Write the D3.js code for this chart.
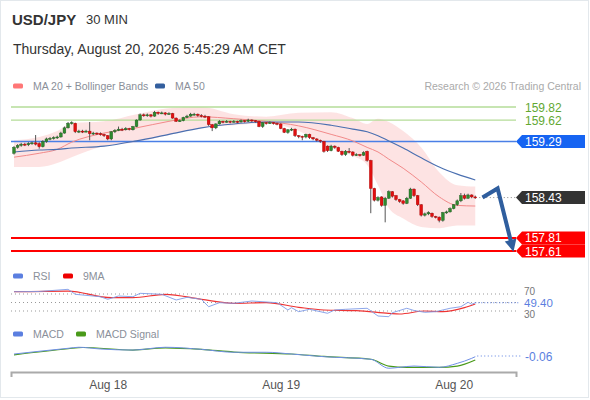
<!DOCTYPE html>
<html>
<head>
<meta charset="utf-8" />
<style>
  body { margin: 0; background: #fff; }
  svg text { font-family: "Liberation Sans", Arial, sans-serif; }
</style>
</head>
<body>
<div id="chart"></div>
<script src="https://cdnjs.cloudflare.com/ajax/libs/d3/7.8.5/d3.min.js"></script>
<script>
var pair = "USD/JPY", period = "30 MIN";
var stamp = "Thursday, August 20, 2026 5:45:29 AM CET";
var credit = "Research \u00a9 2026 Trading Central";

// 30 min candles, first one Aug 17 11:00
var opens = [159.11,159.20,159.23,159.25,159.24,159.26,159.27,159.26,159.21,159.29,
  159.33,159.34,159.35,159.36,159.42,159.50,159.57,159.57,159.44,159.45,
  159.44,159.45,159.41,159.42,159.41,159.40,159.38,159.33,159.44,159.46,
  159.48,159.47,159.49,159.47,159.52,159.62,159.70,159.69,159.70,159.68,
  159.74,159.72,159.73,159.71,159.72,159.65,159.60,159.61,159.66,159.68,
  159.71,159.71,159.69,159.68,159.67,159.55,159.50,159.56,159.60,159.59,
  159.60,159.59,159.60,159.59,159.61,159.60,159.62,159.61,159.60,159.52,
  159.58,159.57,159.58,159.57,159.56,159.49,159.43,159.47,159.48,159.38,
  159.37,159.36,159.40,159.35,159.33,159.31,159.29,159.22,159.15,159.22,
  159.20,159.14,159.09,159.14,159.13,159.08,159.09,159.08,159.14,159.00,
  158.57,158.39,158.44,158.31,158.42,158.52,158.46,158.40,158.38,158.34,
  158.42,158.56,158.46,158.32,158.16,158.18,158.19,158.14,158.13,158.08,
  158.20,158.21,158.26,158.32,158.38,158.46,158.42,158.47,158.44];
var closes = [159.20,159.23,159.25,159.24,159.26,159.27,159.25,159.21,159.29,159.33,
  159.34,159.35,159.36,159.42,159.50,159.57,159.58,159.44,159.45,159.44,
  159.45,159.41,159.42,159.41,159.40,159.38,159.33,159.44,159.46,159.48,
  159.47,159.49,159.48,159.52,159.62,159.70,159.69,159.70,159.68,159.74,
  159.72,159.73,159.71,159.72,159.65,159.60,159.61,159.66,159.68,159.71,
  159.71,159.69,159.68,159.67,159.55,159.50,159.56,159.60,159.59,159.60,
  159.59,159.60,159.59,159.61,159.60,159.62,159.61,159.60,159.52,159.58,
  159.57,159.58,159.57,159.56,159.49,159.43,159.47,159.48,159.38,159.37,
  159.36,159.40,159.35,159.33,159.31,159.30,159.14,159.15,159.22,159.20,
  159.14,159.09,159.14,159.13,159.08,159.09,159.08,159.12,159.00,158.57,
  158.39,158.43,158.31,158.42,158.52,158.45,158.40,158.37,158.34,158.42,
  158.56,158.46,158.32,158.16,158.18,158.20,158.14,158.13,158.08,158.20,
  158.21,158.26,158.32,158.38,158.46,158.42,158.47,158.44,158.43];
var highs = [159.22,159.25,159.27,159.27,159.28,159.29,159.39,159.28,159.31,159.35,
  159.36,159.37,159.38,159.44,159.52,159.59,159.60,159.58,159.47,159.47,
  159.47,159.59,159.44,159.43,159.43,159.41,159.39,159.45,159.48,159.52,
  159.50,159.51,159.50,159.53,159.63,159.72,159.72,159.72,159.71,159.76,
  159.75,159.75,159.74,159.74,159.73,159.66,159.63,159.67,159.70,159.73,
  159.73,159.72,159.71,159.70,159.68,159.56,159.57,159.62,159.61,159.62,
  159.61,159.62,159.61,159.63,159.62,159.64,159.63,159.62,159.61,159.59,
  159.59,159.60,159.59,159.58,159.57,159.50,159.48,159.50,159.49,159.39,
  159.38,159.41,159.41,159.36,159.34,159.32,159.30,159.23,159.24,159.23,
  159.21,159.15,159.16,159.19,159.14,159.11,159.10,159.14,159.15,159.01,
  158.58,158.45,158.45,158.44,158.54,158.53,158.47,158.41,158.39,158.44,
  158.58,158.57,158.47,158.33,158.20,158.22,158.20,158.15,158.14,158.21,
  158.23,158.28,158.33,158.40,158.50,158.49,158.49,158.48,158.46];
var lows = [159.09,159.18,159.21,159.22,159.22,159.24,159.23,159.18,159.20,159.27,
  159.31,159.32,159.33,159.35,159.41,159.49,159.55,159.42,159.42,159.42,
  159.43,159.31,159.39,159.39,159.38,159.36,159.31,159.31,159.42,159.45,
  159.45,159.46,159.46,159.46,159.51,159.61,159.67,159.67,159.66,159.67,
  159.70,159.71,159.69,159.70,159.64,159.59,159.59,159.60,159.65,159.67,
  159.69,159.67,159.66,159.65,159.53,159.45,159.48,159.55,159.57,159.58,
  159.57,159.58,159.57,159.58,159.58,159.59,159.59,159.58,159.51,159.50,
  159.55,159.56,159.55,159.54,159.48,159.42,159.41,159.45,159.36,159.34,
  159.31,159.34,159.33,159.31,159.29,159.27,159.12,159.13,159.14,159.18,
  159.13,159.07,159.07,159.11,159.06,159.07,159.06,159.07,158.98,158.19,
  158.37,158.37,158.29,158.05,158.41,158.43,158.38,158.35,158.32,158.33,
  158.41,158.44,158.30,158.14,158.14,158.16,158.12,158.11,158.05,158.06,
  158.18,158.20,158.25,158.30,158.36,158.40,158.41,158.42,158.41];

// overlay studies, read at a few candles
var bandIdx = [0,7,12,16,25,34,43,52,61,70,79,88,94,98,101,104,108,113,118,123,128];
var ma20   = [159.05,159.11,159.17,159.28,159.42,159.50,159.60,159.67,159.64,159.60,159.53,
  159.40,159.30,159.20,159.13,159.02,158.88,158.67,158.44,158.31,158.30];
var ma50   = [159.13,159.16,159.17,159.19,159.22,159.30,159.40,159.50,159.56,159.59,159.59,
  159.54,159.48,159.44,159.38,159.30,159.19,159.04,158.90,158.79,158.70];
var bandUp = [159.31,159.36,159.45,159.57,159.60,159.71,159.80,159.82,159.71,159.67,159.73,
  159.74,159.65,159.56,159.64,159.59,159.45,159.20,158.82,158.62,158.60];
var bandLo = [158.90,158.90,158.96,159.05,159.22,159.28,159.39,159.50,159.54,159.57,159.45,
  159.19,159.07,158.93,158.62,158.27,158.11,157.98,157.96,158.00,158.00];

var rsiIdx  = [0,7,15,17,24,26,29,33,35,41,45,48,52,54,57,61,66,73,76,77,79,82,87,89,92,
  98,101,104,105,109,111,114,117,121,124,126,127,128];
var rsiVals = [75.4,75.9,81.0,69.3,63.6,57.5,65.3,63.6,71.6,69.3,55.9,62.2,57.5,40.1,49.5,
  48.1,53.5,49.5,32.4,37.8,28.4,34.0,24.6,32.4,34.0,36.4,18.2,16.6,26.0,36.4,31.2,26.9,
  28.4,36.4,40.1,50.5,45.8,49.4];
var rsiMaIdx  = [0,15,27,33,42,52,61,70,79,86,95,104,107,114,119,125,128];
var rsiMaVals = [75.4,77.0,61.3,61.3,69.3,57.5,48.1,49.5,38.7,32.4,30.7,24.6,23.0,30.0,28.3,37.8,46.5];

var macdIdx  = [0,15,18,24,33,42,52,61,70,77,86,99,104,107,111,118,123,127,128];
var macdVals = [-0.043,0.006,0.015,0.000,-0.009,0.015,-0.003,-0.028,-0.028,-0.043,-0.066,
  -0.088,-0.165,-0.157,-0.146,-0.157,-0.123,-0.080,-0.066];
var sigIdx  = [0,15,19,33,42,52,61,77,86,99,104,109,118,123,128];
var sigVals = [-0.051,0.002,0.013,-0.009,0.010,-0.003,-0.026,-0.043,-0.064,-0.088,-0.146,
  -0.157,-0.157,-0.146,-0.094];

var resistances = [159.82, 159.62];
var pivot = 159.29;
var supports = [157.81, 157.61];
var lastPrice = 158.43;
var lastRsi = 49.40, lastMacd = -0.06;
var rsiLevels = [70, 50, 30];
var dayTicks = ["2026-08-18", "2026-08-19", "2026-08-20"];

var width = 590, height = 400;
var t0 = Date.UTC(2026, 7, 17, 11, 0);
function time(i) { return new Date(t0 + i * 1800000); }

var x = d3.scaleUtc().domain([time(-0.83), time(139.3)]).range([11, 516]);
var y = d3.scaleLinear().domain([157.61, 159.82]).range([251, 107]);
var yRsi = d3.scaleLinear().domain([30, 70]).range([311, 294]);
var yMacd = d3.scaleLinear().domain([-0.06, 0]).range([356, 349]);

var svg = d3.select('#chart').append('svg')
  .attr('width', width).attr('height', height);

svg.append('rect').attr('x', 0.5).attr('y', 0.5)
  .attr('width', 588).attr('height', 397)
  .attr('fill', '#fff').attr('stroke', '#e3e8ec');

// header
svg.append('text').attr('x', 12).attr('y', 25).text(pair)
  .attr('font-size', 15).attr('font-weight', 'bold').attr('fill', '#333');
svg.append('text').attr('x', 86).attr('y', 24).text(period)
  .attr('font-size', 13).attr('fill', '#333');
svg.append('text').attr('x', 13).attr('y', 54).text(stamp)
  .attr('font-size', 14).attr('fill', '#333');

function legend(items, ly) {
  items.forEach(function(it) {
    svg.append('rect').attr('x', it[0]).attr('y', ly - 2.5).attr('width', 10).attr('height', 5)
      .attr('rx', 1.5).attr('fill', it[2]);
    svg.append('text').attr('x', it[0] + 20).attr('y', ly + 4).text(it[1])
      .attr('font-size', 10.5).attr('fill', '#8a8f99');
  });
}
legend([[13, 'MA 20 + Bollinger Bands', '#f77'], [155, 'MA 50', '#335f9e']], 86);
legend([[13, 'RSI', '#5b7fe0'], [63, '9MA', '#e00']], 276);
legend([[13, 'MACD', '#5b7fe0'], [76, 'MACD Signal', '#4a9a1a']], 334);

svg.append('text').attr('x', 581).attr('y', 90).attr('text-anchor', 'end')
  .text(credit).attr('font-size', 10.5).attr('fill', '#aaa');

// bollinger band + moving averages
var bandData = bandIdx.map(function(d, i) { return {t: time(d), up: bandUp[i], lo: bandLo[i], m20: ma20[i], m50: ma50[i]}; });
svg.append('path').datum(bandData)
  .attr('d', d3.area().curve(d3.curveMonotoneX)
    .x(function(d) { return x(d.t); })
    .y0(function(d) { return y(d.lo); })
    .y1(function(d) { return y(d.up); }))
  .attr('fill', '#fde0e0').attr('opacity', 0.9);

// level lines
resistances.forEach(function(v) {
  svg.append('line').attr('x1', 11).attr('x2', 516).attr('y1', y(v)).attr('y2', y(v))
    .attr('stroke', '#b5dc98').attr('stroke-width', 1.3);
  svg.append('text').attr('x', 525).attr('y', y(v) + 4.5).text(v.toFixed(2))
    .attr('font-size', 12).attr('fill', '#62a832');
});
svg.append('line').attr('x1', 11).attr('x2', 516).attr('y1', y(pivot)).attr('y2', y(pivot))
  .attr('stroke', '#4a7fe6').attr('stroke-width', 1.6);
supports.forEach(function(v) {
  svg.append('line').attr('x1', 11).attr('x2', 516).attr('y1', y(v)).attr('y2', y(v))
    .attr('stroke', '#f00').attr('stroke-width', 2);
});

function lineAt(key) {
  return d3.line().curve(d3.curveMonotoneX)
    .x(function(d) { return x(d.t); })
    .y(function(d) { return y(d[key]); });
}
svg.append('path').datum(bandData).attr('d', lineAt('m20'))
  .attr('fill', 'none').attr('stroke', '#f28a8a').attr('stroke-width', 1);
svg.append('path').datum(bandData).attr('d', lineAt('m50'))
  .attr('fill', 'none').attr('stroke', '#4a6fb0').attr('stroke-width', 1.1);

// candles
var candles = closes.map(function(c, i) { return {t: time(i), o: opens[i], h: highs[i], l: lows[i], c: c}; });
var cg = svg.append('g');
cg.selectAll('line.wick').data(candles).enter().append('line')
  .attr('x1', function(d) { return x(d.t); }).attr('x2', function(d) { return x(d.t); })
  .attr('y1', function(d) { return y(d.h); }).attr('y2', function(d) { return y(d.l); })
  .attr('stroke', '#555').attr('stroke-width', 1);
cg.selectAll('rect').data(candles).enter().append('rect')
  .attr('x', function(d) { return x(d.t) - 1.4; })
  .attr('width', 2.8)
  .attr('y', function(d) { return y(Math.max(d.o, d.c)); })
  .attr('height', function(d) { return Math.max(1, Math.abs(y(d.o) - y(d.c))); })
  .attr('fill', function(d) { return d.c >= d.o ? '#2f8a2f' : '#e01010'; })
  .attr('stroke', function(d) { return d.c >= d.o ? '#1f5a1f' : '#a00'; })
  .attr('stroke-width', 0.4);

// last price dotted line
var lastT = time(closes.length - 1);
svg.append('line').attr('x1', x(lastT) + 4).attr('x2', 516).attr('y1', y(lastPrice)).attr('y2', y(lastPrice))
  .attr('stroke', '#888').attr('stroke-dasharray', '1,2.5');

// forecast arrow
var a0 = [x(time(130)), y(lastPrice)], a1 = [x(time(134.2)), y(158.57)], a2 = [x(time(138.6)), y(157.60)];
var dx = a2[0] - a1[0], dy = a2[1] - a1[1], len = Math.sqrt(dx * dx + dy * dy);
var ux = dx / len, uy = dy / len, hl = 12, hw = 6;
var base = [a2[0] - ux * hl, a2[1] - uy * hl];
svg.append('path')
  .attr('d', 'M' + a0 + 'L' + a1 + 'L' + [a2[0] - ux * (hl - 1), a2[1] - uy * (hl - 1)])
  .attr('fill', 'none').attr('stroke', '#2f5e9e').attr('stroke-width', 4)
  .attr('stroke-linejoin', 'miter');
svg.append('path')
  .attr('d', 'M' + a2 + 'L' + [base[0] - uy * hw, base[1] + ux * hw] + 'L' + [base[0] + uy * hw, base[1] - ux * hw] + 'Z')
  .attr('fill', '#2f5e9e');

// right labels
function tag(v, fill) {
  var yc = y(v);
  svg.append('path')
    .attr('d', 'M516,' + yc + 'L522,' + (yc - 6.5) + 'L585,' + (yc - 6.5) + 'L585,' + (yc + 6.5) + 'L522,' + (yc + 6.5) + 'Z')
    .attr('fill', fill);
  svg.append('text').attr('x', 525).attr('y', yc + 4.5).text(v.toFixed(2))
    .attr('font-size', 12).attr('fill', '#fff');
}
tag(pivot, '#1664f2');
tag(lastPrice, '#333');
supports.forEach(function(v) { tag(v, '#f00'); });

// RSI panel
rsiLevels.forEach(function(v) {
  svg.append('line').attr('x1', 11).attr('x2', 517).attr('y1', yRsi(v)).attr('y2', yRsi(v))
    .attr('stroke', '#999').attr('stroke-dasharray', '1,3');
});
svg.append('text').attr('x', 524).attr('y', yRsi(70) + 1).text(70)
  .attr('font-size', 10).attr('fill', '#777');
svg.append('text').attr('x', 524).attr('y', yRsi(30) + 7).text(30)
  .attr('font-size', 10).attr('fill', '#777');
var rsiLine = d3.line().x(function(d) { return x(time(d[0])); }).y(function(d) { return yRsi(d[1]); });
svg.append('path').datum(d3.zip(rsiMaIdx, rsiMaVals)).attr('d', rsiLine.curve(d3.curveMonotoneX))
  .attr('fill', 'none').attr('stroke', '#e33').attr('stroke-width', 1.2);
svg.append('path').datum(d3.zip(rsiIdx, rsiVals)).attr('d', rsiLine.curve(d3.curveLinear))
  .attr('fill', 'none').attr('stroke', '#7f9ce8').attr('stroke-width', 0.9);
svg.append('line').attr('x1', x(lastT)).attr('x2', 519).attr('y1', yRsi(lastRsi)).attr('y2', yRsi(lastRsi))
  .attr('stroke', '#5b7fe0').attr('stroke-dasharray', '1,2');
svg.append('rect').attr('x', 521).attr('y', yRsi(lastRsi) - 4.5).attr('width', 34).attr('height', 9).attr('fill', '#fff');
svg.append('text').attr('x', 524).attr('y', yRsi(lastRsi) + 4).text(lastRsi.toFixed(2))
  .attr('font-size', 11.5).attr('fill', '#5b7fe0');

// MACD panel
var macdLine = d3.line().curve(d3.curveMonotoneX)
  .x(function(d) { return x(time(d[0])); }).y(function(d) { return yMacd(d[1]); });
svg.append('path').datum(d3.zip(sigIdx, sigVals)).attr('d', macdLine)
  .attr('fill', 'none').attr('stroke', '#4a9a1a').attr('stroke-width', 1.2);
svg.append('path').datum(d3.zip(macdIdx, macdVals)).attr('d', macdLine)
  .attr('fill', 'none').attr('stroke', '#6f8fe6').attr('stroke-width', 1);
svg.append('line').attr('x1', x(lastT) + 2).attr('x2', 521).attr('y1', yMacd(lastMacd)).attr('y2', yMacd(lastMacd))
  .attr('stroke', '#5b7fe0').attr('stroke-dasharray', '1,2.5');
svg.append('text').attr('x', 525).attr('y', yMacd(lastMacd) + 4.5).text(lastMacd.toFixed(2))
  .attr('font-size', 12).attr('fill', '#5b7fe0');

// time axis
var xAxis = d3.axisBottom(x)
  .tickValues(dayTicks.map(function(d) { return new Date(d + 'T00:00:00Z'); }))
  .tickFormat(d3.utcFormat('%b %d'))
  .tickSizeInner(0).tickSizeOuter(5).tickPadding(8);
var ax = svg.append('g').attr('transform', 'translate(0,372)').call(xAxis);
ax.select('.domain').attr('stroke', '#aaa').attr('stroke-width', 2);
ax.selectAll('text').attr('font-size', 12).attr('fill', '#555')
  .style('font-family', '"Liberation Sans", Arial, sans-serif');
</script>
</body>
</html>
